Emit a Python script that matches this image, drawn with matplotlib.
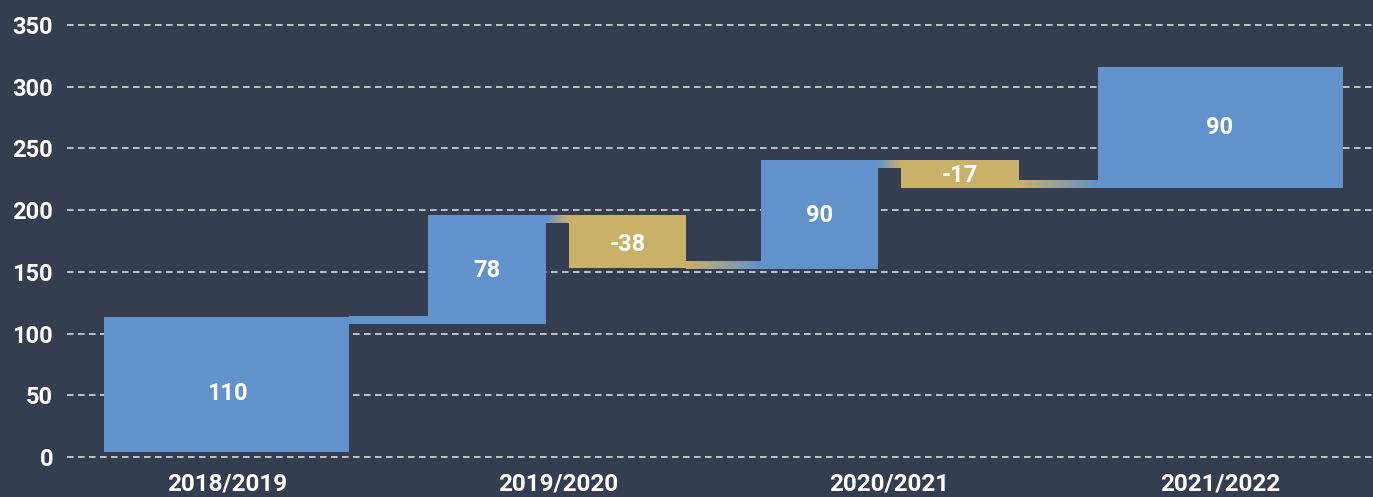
import numpy as np
import matplotlib.pyplot as plt
from matplotlib.colors import LinearSegmentedColormap

# ─── Données ───
categories = ['2018/2019', '2019/2020', '2020/2021', '2021/2022']
valeurs    = [110, 78, -38, 90, -17, 90]
bas        = [4, 108, 153, 152.4, 218, 218]        # bas de chaque barre
haut       = [113.5, 196, 196, 240.8, 240.8, 316.3]  # haut de chaque barre
pos_texte  = [51.5, 151, 172, 196, 228, 267]        # hauteur des étiquettes
# connecteurs : (barre gauche, barre droite, niveau bas)
liens      = [(0, 1, 107.5), (1, 2, 189.6), (2, 3, 152.4), (3, 4, 234.3), (4, 5, 218)]
yticks     = [0, 50, 100, 150, 200, 250, 300, 350]

# ─── Style ───
FOND  = '#343e50'
BLEU  = '#6292cb'
OR    = '#cab168'
EP    = 6.2   # épaisseur des connecteurs

# position des barres : large pour 1ère/dernière, deux demi-barres au milieu
cx = [0, 1 - 0.215, 1 + 0.21, 2.005 - 0.215, 2.005 + 0.21, 3]
larg = [0.74, 0.356, 0.356, 0.356, 0.356, 0.74]
couleurs = [BLEU if v > 0 else OR for v in valeurs]

fig = plt.figure(figsize=(13.73, 4.97), dpi=100, facecolor=FOND)
ax = fig.add_axes([67 / 1373, (497 - 463.2) / 497, 1306 / 1373, 463.2 / 497])
ax.set_facecolor(FOND)
ax.set_xlim(-0.483, 3.462)
ax.set_ylim(-5, 370.3)

for y in yticks:
    ax.axhline(y, color='#e4e6ea', linewidth=1.1, linestyle=(0, (4.3, 2.9)), zorder=0)

# connecteurs en dégradé
for g, d, y0 in liens:
    x0 = cx[g] + larg[g] / 2
    x1 = cx[d] - larg[d] / 2
    cmap = LinearSegmentedColormap.from_list('deg', [couleurs[g], couleurs[d]])
    grad = np.linspace(0, 1, 256).reshape(1, -1)
    ax.imshow(grad, cmap=cmap, aspect='auto', extent=(x0, x1, y0, y0 + EP),
              interpolation='bilinear', zorder=1)

ax.bar(cx, np.array(haut) - np.array(bas), bottom=bas, width=larg,
       color=couleurs, linewidth=0, zorder=2)

for x, yt, v in zip(cx, pos_texte, valeurs):
    ax.text(x, yt, str(v), ha='center', va='center',
            color='white', fontsize=17, fontfamily='Roboto', fontweight='bold', zorder=3)

ax.set_yticks(yticks)
ax.set_xticks(range(len(categories)))
ax.set_xticklabels(categories)
ax.tick_params(axis='both', length=0, colors='white')
ax.tick_params(axis='y', pad=10, labelsize=17)
ax.tick_params(axis='x', pad=7, labelsize=17.5)
for lab in ax.get_xticklabels() + ax.get_yticklabels():
    lab.set_fontfamily('Roboto')
    lab.set_fontweight('bold')
for s in ax.spines.values():
    s.set_visible(False)

fig.savefig('out.png', dpi=100, facecolor=FOND)
